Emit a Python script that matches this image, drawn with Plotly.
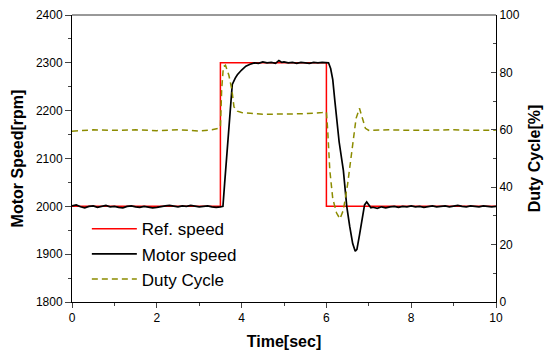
import plotly.graph_objects as go

# Reference speed [rpm]
ref_t = [0.0, 3.5, 3.5, 6.0, 6.0, 10.0]
ref_v = [2000, 2000, 2300, 2300, 2000, 2000]

# Measured motor speed [rpm]
motor_t = [0.0, 0.1, 0.2, 0.3, 0.4, 0.5, 0.6, 0.7, 0.8, 0.9,
           1.0, 1.1, 1.2, 1.3, 1.4, 1.5, 1.6, 1.7, 1.8, 1.9,
           2.0, 2.1, 2.2, 2.3, 2.4, 2.5, 2.6, 2.7, 2.8, 2.9,
           3.0, 3.1, 3.2, 3.3, 3.4, 3.5, 3.56, 3.6, 3.65, 3.7,
           3.75, 3.78, 3.85, 3.9, 4.0, 4.1, 4.2, 4.3, 4.4, 4.5,
           4.6, 4.7, 4.8, 4.88, 4.95, 5.0, 5.1, 5.2, 5.3, 5.4,
           5.5, 5.6, 5.7, 5.8, 5.9, 6.0, 6.05, 6.1, 6.15, 6.2,
           6.3, 6.4, 6.48, 6.55, 6.62, 6.68, 6.72, 6.78, 6.85, 6.9,
           6.95, 7.0, 7.05, 7.1, 7.2, 7.3, 7.4, 7.5, 7.6, 7.7,
           7.8, 7.9, 8.0, 8.1, 8.2, 8.3, 8.4, 8.5, 8.6, 8.7,
           8.8, 8.9, 9.0, 9.1, 9.2, 9.3, 9.4, 9.5, 9.6, 9.7,
           9.8, 9.9, 10.0]
motor_v = [2001, 2003, 1999, 1997, 2000, 2001, 1998, 2000, 2002, 1999,
           2000, 1998, 1997, 2000, 2001, 1999, 1998, 2000, 1999, 1997,
           1998, 2000, 2001, 2002, 2000, 1999, 2001, 2000, 2002, 2000,
           1999, 2000, 2001, 1999, 1998, 1999, 2000, 2048, 2108, 2170,
           2232, 2255, 2268, 2275, 2285, 2293, 2297, 2300, 2299, 2302,
           2300, 2301, 2299, 2305, 2301, 2302, 2300, 2301, 2299, 2301,
           2300, 2299, 2301, 2300, 2301, 2300, 2300, 2288, 2265, 2220,
           2135, 2075, 2000, 1958, 1922, 1906, 1910, 1940, 1980, 2003,
           2009, 2003, 1997, 1998, 1996, 1999, 1997, 1999, 2000, 1998,
           2000, 1999, 2001, 1999, 2000, 1998, 2000, 2001, 1999, 2000,
           2001, 1999, 2000, 2002, 2000, 1999, 2001, 2000, 1999, 2001,
           2000, 1999, 2000]

# Duty cycle [%]
duty_t = [0.0, 0.2, 0.5, 1.0, 1.5, 2.0, 2.5, 3.0, 3.3, 3.45,
          3.5, 3.53, 3.57, 3.62, 3.7, 3.77, 3.82, 3.9, 4.0, 4.2,
          4.5, 5.0, 5.5, 5.9, 6.0, 6.03, 6.08, 6.15, 6.24, 6.32,
          6.4, 6.5, 6.6, 6.7, 6.78, 6.85, 6.92, 7.0, 7.5, 8.0,
          8.5, 9.0, 9.5, 10.0]
duty_v = [59.5, 59.8, 60.0, 59.8, 60.0, 59.7, 60.0, 59.6, 60.0, 60.5,
          61.0, 74.0, 82.0, 82.5, 79.0, 74.0, 68.0, 66.5, 66.0, 65.8,
          65.4, 65.5, 65.6, 66.0, 66.2, 60.0, 46.0, 36.0, 31.0, 29.0,
          32.0, 41.0, 53.0, 64.0, 67.5, 64.0, 60.5, 59.8, 60.0, 59.8,
          60.0, 60.0, 59.8, 59.9]

x_ticks = [0, 2, 4, 6, 8, 10]
y_ticks = [1800, 1900, 2000, 2100, 2200, 2300, 2400]
y2_ticks = [0, 20, 40, 60, 80, 100]

FONT = "Liberation Sans, Arial, sans-serif"

fig = go.Figure()
fig.add_trace(go.Scatter(x=ref_t, y=ref_v, mode="lines", name="Ref. speed",
                         line=dict(color="#ff0000", width=1.5)))
fig.add_trace(go.Scatter(x=motor_t, y=motor_v, mode="lines", name="Motor speed",
                         line=dict(color="#000000", width=1.7)))
fig.add_trace(go.Scatter(x=duty_t, y=duty_v, mode="lines", name="Duty Cycle",
                         yaxis="y2", line=dict(color="#8c8c00", width=1.5, dash="6px,4px")))

fig.update_layout(
    width=544, height=352,
    margin=dict(l=72, r=48, t=15, b=50),
    paper_bgcolor="white", plot_bgcolor="white",
    font=dict(family=FONT, size=12, color="black"),
    showlegend=True,
    legend=dict(x=0.035, y=0.316, xanchor="left", yanchor="top",
                font=dict(size=17, family=FONT), bgcolor="rgba(0,0,0,0)",
                itemwidth=45, tracegroupgap=0),
    xaxis=dict(range=[0, 10], tickvals=x_ticks, ticks="outside", ticklen=5,
               showline=True, linecolor="black", linewidth=1, mirror=False,
               showgrid=False, zeroline=False, automargin=False,
               minor=dict(dtick=1, ticks="outside", ticklen=3, showgrid=False),
               title=dict(text="<b>Time[sec]</b>", font=dict(size=16, family=FONT), standoff=11)),
    yaxis=dict(range=[1800, 2400], tickvals=y_ticks, ticks="outside", ticklen=6,
               showline=True, linecolor="black", linewidth=1,
               showgrid=False, zeroline=False, automargin=False,
               minor=dict(dtick=50, ticks="outside", ticklen=3, showgrid=False),
               title=dict(text="<b>Motor Speed[rpm]</b>", font=dict(size=16, family=FONT), standoff=8)),
    yaxis2=dict(range=[0, 100], tickvals=y2_ticks, ticks="inside", ticklen=5,
                overlaying="y", side="right",
                showline=True, linecolor="black", linewidth=1,
                showgrid=False, zeroline=False, automargin=False,
                minor=dict(dtick=10, ticks="inside", ticklen=3, showgrid=False),
                title=dict(text="<b>Duty Cycle[%]</b>", font=dict(size=16, family=FONT), standoff=10)),
    shapes=[dict(type="line", xref="paper", yref="paper", x0=0, x1=1, y0=1, y1=1,
                 line=dict(color="#333333", width=1))],
)

fig.write_html("out.html", config={"displayModeBar": False},
               post_script="document.body.style.margin='0';document.body.style.padding='0';")
